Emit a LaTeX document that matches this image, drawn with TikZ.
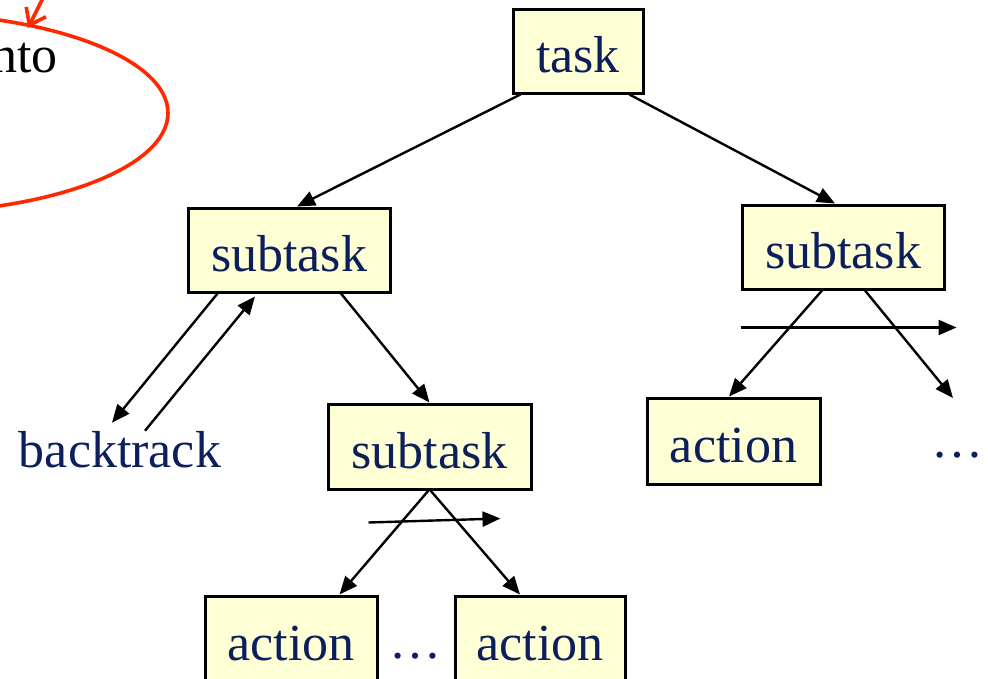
\documentclass[tikz,border=0pt]{standalone}
\usepackage{fontspec}
\setmainfont{Liberation Serif}
\usetikzlibrary{arrows.meta,calc}
\definecolor{navy}{RGB}{12,30,92}
\definecolor{boxfill}{RGB}{255,255,214}
\definecolor{redline}{RGB}{255,40,0}
\begin{document}
\begin{tikzpicture}[x=1pt,y=-1pt,
  box/.style={draw=black,line width=3pt,fill=boxfill,text=navy,font=\fontsize{52}{60}\selectfont,text height=43pt,text depth=0pt,inner sep=0pt,minimum height=84pt},
  lbl/.style={text=navy,font=\fontsize{52}{60}\selectfont,inner sep=0pt},
  arr/.style={line width=2.4pt,-{Triangle[length=18pt,width=15pt]}},
  redarr/.style={draw=redline,line width=3.6pt}
]
\useasboundingbox (0,0) rectangle (988,678);
\clip (0,0) rectangle (988,678);

% red annotation
\draw[redarr] (-100,113) ellipse [x radius=268pt, y radius=100pt];
\coordinate (rt) at (44,-4);
\coordinate (rh) at (28,28);
\draw[redarr,-{Straight Barb[length=15pt,width=22pt]}] (rt) -- (rh);
\node[font=\fontsize{52}{60}\selectfont,inner sep=0pt,anchor=base east] (nto) at (58,72) {nto};

% boxes
\node[box,minimum width=130pt] (task) at (578,51) {task};
\node[box,minimum width=202pt] (subL) at (289,250) {subtask};
\node[box,minimum width=202pt] (subR) at (843,247) {subtask};
\node[box,minimum width=203pt,minimum height=85pt] (subM) at (429.5,446.5) {subtask};
\node[box,minimum width=173pt,minimum height=86pt] (actR) at (733.5,441) {action};
\node[box,minimum width=172pt,minimum height=86pt] (actL) at (291,639) {action};
\node[box,minimum width=170pt,minimum height=86pt] (actM) at (540,639) {action};

% labels
\node[lbl,anchor=base] (bt) at (120,467) {backtrack};
\node[lbl,anchor=base] (dM) at (415,658) {…};
\node[lbl,anchor=base] (dR) at (957,457) {…};

% arrows
\draw[arr] ($(task.south west)+(9,0)$) -- ($(subL.north)+(8,0)$);
\draw[arr] ($(task.south east)+(-15,0)$) -- ($(subR.north)+(-8,0)$);
\draw[arr] ($(subL.south west)+(31,0)$) -- ($(bt.north)+(-8,-8)$);
\draw[arr] ($(bt.north)+(25,0)$) -- ($(subL.south)+(-34,3)$);
\draw[arr] ($(subL.south)+(52,0)$) -- (subM.north);
\draw[arr] ($(subM.south)+(-1,0)$) -- ($(actL.north east)+(-39,0)$);
\draw[arr] ($(subM.south)+(1,0)$) -- ($(actM.north)+(-20,0)$);
\draw[arr] ($(subM.south)+(-61,32)$) -- ($(subM.south)+(71,28)$);
\draw[arr] ($(subR.south)+(-21,0)$) -- ($(actR.north)+(-4.5,0)$);
\draw[arr] ($(subR.south)+(22,0)$) -- ($(dR.base)+(-4,-59)$);
\draw[arr] ($(subR.south west)+(0,37)$) -- ($(subR.south west)+(216,37)$);
\end{tikzpicture}
\end{document}
